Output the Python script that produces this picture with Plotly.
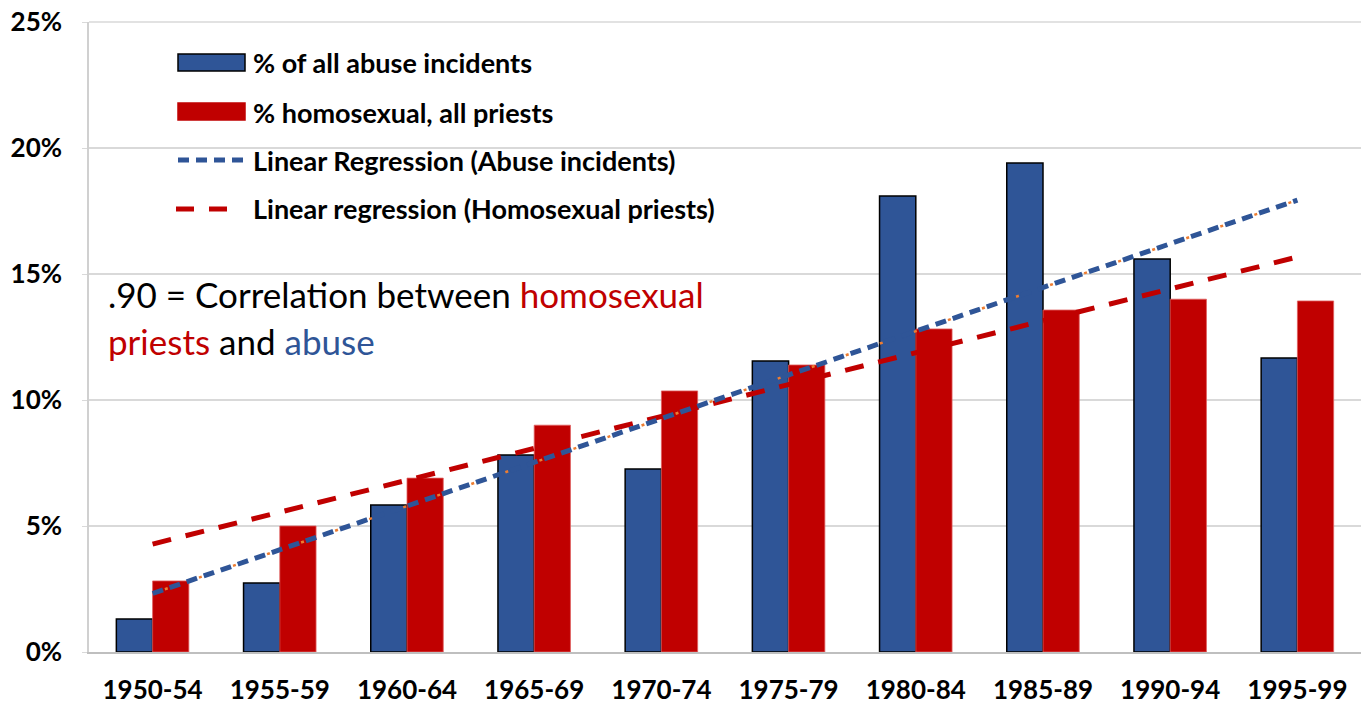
import numpy as np
import plotly.graph_objects as go

categories = ["1950-54", "1955-59", "1960-64", "1965-69", "1970-74",
              "1975-79", "1980-84", "1985-89", "1990-94", "1995-99"]
abuse_pct = [1.31, 2.74, 5.83, 7.82, 7.26, 11.55, 18.1, 19.4, 15.6, 11.67]
homosexual_pct = [2.82, 5.0, 6.9, 9.0, 10.36, 11.39, 12.82, 13.57, 14.0, 13.93]
y_ticks = [0, 5, 10, 15, 20, 25]
y_tick_labels = ["0%", "5%", "10%", "15%", "20%", "25%"]

W, H = 1361, 705
L, R, T, B = 89, 0, 22, 53
PW, PH = W - L - R, H - T - B

BLUE = "#2F5597"
RED = "#C00000"
ORANGE = "#ED7D31"
GRID = "#D9D9D9"
FONT = "Lato"

idx = np.arange(len(categories))
a_slope, a_int = np.polyfit(idx, abuse_pct, 1)
h_slope, h_int = np.polyfit(idx, homosexual_pct, 1)
abuse_fit = a_int + a_slope * idx
homo_fit = h_int + h_slope * idx

fig = go.Figure()
fig.add_trace(go.Bar(x=categories, y=abuse_pct, name="% of all abuse incidents",
                     marker=dict(color=BLUE, line=dict(color="black", width=1.5))))
fig.add_trace(go.Bar(x=categories, y=homosexual_pct, name="% homosexual, all priests",
                     marker=dict(color=RED, line=dict(color="#E06060", width=0.8))))
fig.add_trace(go.Scatter(x=categories, y=homo_fit, mode="lines",
                         name="Linear regression (Homosexual priests)",
                         line=dict(color=RED, width=5, dash="19px,15px")))
fig.add_trace(go.Scatter(x=categories, y=abuse_fit, mode="lines",
                         name="Linear Regression (Abuse incidents)",
                         line=dict(color=BLUE, width=5, dash="11px,7px")))
fig.add_trace(go.Scatter(x=categories, y=abuse_fit, mode="lines", showlegend=False,
                         line=dict(color=ORANGE, width=2.5, dash="0px,13px,3px,20px"),
                         hoverinfo="skip"))


def px(x):
    return (x - L) / PW


def py(y):
    return (H - B - y) / PH


shapes = [dict(type="line", xref="paper", yref="paper", x0=0, x1=1, y0=1, y1=1,
               line=dict(color=GRID, width=1.5), layer="below")]
annotations = []
legend_rows = [
    ("rect", BLUE, "% of all abuse incidents", 63),
    ("rect", RED, "% homosexual, all priests", 112),
    ("dash_blue", BLUE, "Linear Regression (Abuse incidents)", 160),
    ("dash_red", RED, "Linear regression (Homosexual priests)", 209),
]
for kind, col, text, yc in legend_rows:
    if kind == "rect":
        shapes.append(dict(type="rect", xref="paper", yref="paper",
                           x0=px(178), x1=px(245), y0=py(yc - 9), y1=py(yc + 8),
                           fillcolor=col,
                           line=dict(color="black" if col == BLUE else col, width=1.5)))
    elif kind == "dash_blue":
        shapes.append(dict(type="line", xref="paper", yref="paper",
                           x0=px(178), x1=px(245), y0=py(yc), y1=py(yc),
                           line=dict(color=col, width=5, dash="11px,7px")))
    else:
        shapes.append(dict(type="line", xref="paper", yref="paper",
                           x0=px(176), x1=px(229), y0=py(yc), y1=py(yc),
                           line=dict(color=col, width=5, dash="18px,15px")))
    annotations.append(dict(xref="paper", yref="paper", x=px(251), y=py(yc),
                            xanchor="left", yanchor="middle", showarrow=False,
                            text=text, font=dict(family=FONT, size=27, color="black",
                                                 weight="bold")))

annotations.append(dict(xref="paper", yref="paper", x=px(106), y=py(294),
                        xanchor="left", yanchor="middle", showarrow=False,
                        text=".90 = Correlation between <span style='color:%s'>homosexual</span>" % RED,
                        font=dict(family=FONT, size=35, color="black")))
annotations.append(dict(xref="paper", yref="paper", x=px(106), y=py(341),
                        xanchor="left", yanchor="middle", showarrow=False,
                        text="<span style='color:%s'>priests</span> and <span style='color:%s'>abuse</span>" % (RED, BLUE),
                        font=dict(family=FONT, size=35, color="black")))

fig.update_layout(
    width=W, height=H,
    margin=dict(l=L, r=R, t=T, b=B, pad=0, autoexpand=False),
    paper_bgcolor="white", plot_bgcolor="white",
    barmode="group", bargap=0.43, bargroupgap=0,
    showlegend=False, hovermode=False,
    shapes=shapes, annotations=annotations,
    font=dict(family=FONT, color="black"),
)
fig.update_xaxes(showline=True, linecolor="#BFBFBF", linewidth=1.5, automargin=False,
                 showgrid=False, ticks="", ticklabelstandoff=14,
                 tickfont=dict(family=FONT, size=26, color="black", weight="bold"))
fig.update_yaxes(range=[0, 25], tickvals=y_ticks, ticktext=y_tick_labels, automargin=False,
                 showline=True, linecolor="#D0D0D0", linewidth=1.5,
                 showgrid=True, gridcolor=GRID, gridwidth=1.5,
                 ticks="outside", ticklen=5, tickcolor=GRID,
                 ticklabelstandoff=15, zeroline=False, ticklabeloverflow="allow",
                 tickfont=dict(family=FONT, size=26, color="black", weight="bold"))

fig.write_html("out.html", config={"displayModeBar": False},
               post_script="document.body.style.margin='0';document.body.style.overflow='hidden';")
